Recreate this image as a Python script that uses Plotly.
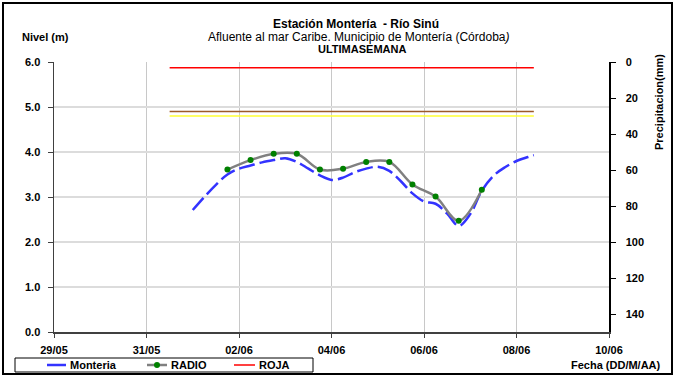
import plotly.graph_objects as go

# ---------------- data ----------------
monteria_t = ["2011-06-01 00:00", "2011-06-01 06:00", "2011-06-01 12:00", "2011-06-01 18:00",
              "2011-06-02 00:00", "2011-06-02 06:00", "2011-06-02 12:00", "2011-06-02 18:00",
              "2011-06-03 00:00", "2011-06-03 06:00", "2011-06-03 12:00", "2011-06-03 18:00",
              "2011-06-04 00:00", "2011-06-04 06:00", "2011-06-04 12:00", "2011-06-04 18:00",
              "2011-06-05 00:00", "2011-06-05 06:00", "2011-06-05 12:00", "2011-06-05 18:00",
              "2011-06-06 00:00", "2011-06-06 06:00", "2011-06-06 12:00", "2011-06-06 18:00",
              "2011-06-07 00:00", "2011-06-07 06:00", "2011-06-07 12:00", "2011-06-07 18:00",
              "2011-06-08 00:00", "2011-06-08 06:00", "2011-06-08 09:00"]
monteria_v = [2.71, 3.00, 3.27, 3.50,
              3.63, 3.70, 3.77, 3.82,
              3.86, 3.78, 3.63, 3.48,
              3.38, 3.43, 3.55, 3.63,
              3.67, 3.58, 3.35, 3.08,
              2.90, 2.85, 2.63, 2.36,
              2.62, 3.14, 3.47, 3.66,
              3.80, 3.89, 3.93]

radio_t = ["2011-06-01 18:00", "2011-06-02 06:00", "2011-06-02 18:00", "2011-06-03 06:00",
           "2011-06-03 18:00", "2011-06-04 06:00", "2011-06-04 18:00", "2011-06-05 06:00",
           "2011-06-05 18:00", "2011-06-06 06:00", "2011-06-06 18:00", "2011-06-07 06:00"]
radio_v = [3.61, 3.82, 3.96, 3.96, 3.61, 3.63, 3.78, 3.78, 3.28, 3.01, 2.47, 3.16]

umbral_t = ["2011-05-31 12:00", "2011-06-08 09:00"]
roja_v = 5.87
naranja_v = 4.90
amarilla_v = 4.80

x_ticks = ["2011-05-29", "2011-05-31", "2011-06-02", "2011-06-04",
           "2011-06-06", "2011-06-08", "2011-06-10"]
x_ticktext = ["29/05", "31/05", "02/06", "04/06", "06/06", "08/06", "10/06"]
y_ticks = [0, 1, 2, 3, 4, 5, 6]
y2_ticks = [0, 20, 40, 60, 80, 100, 120, 140]

legend_names = ["Monteria", "RADIO", "ROJA"]

# ---------------- figure ----------------
FONT = "Liberation Sans, Arial, sans-serif"
BLUE, GRAY, GREEN, RED = "#3333FF", "#808080", "#008000", "#FF0000"
fig = go.Figure()

fig.add_trace(go.Scatter(x=umbral_t, y=[naranja_v] * 2, mode="lines",
                         line=dict(color="#9C5A28", width=1.5), showlegend=False,
                         hoverinfo="skip"))
fig.add_trace(go.Scatter(x=umbral_t, y=[amarilla_v] * 2, mode="lines",
                         line=dict(color="#FFFF33", width=1.5), showlegend=False,
                         hoverinfo="skip"))
fig.add_trace(go.Scatter(x=monteria_t, y=monteria_v, name=legend_names[0], mode="lines",
                         line=dict(color=BLUE, width=2.5, shape="spline",
                                   smoothing=1.0, dash="16px,5px")))
fig.add_trace(go.Scatter(x=radio_t, y=radio_v, name=legend_names[1], mode="lines+markers",
                         line=dict(color=GRAY, width=2.5, shape="spline", smoothing=1.0),
                         marker=dict(color=GREEN, size=6)))
fig.add_trace(go.Scatter(x=umbral_t, y=[roja_v] * 2, name=legend_names[2], mode="lines",
                         line=dict(color=RED, width=1.5)))
# invisible trace to create the right axis
fig.add_trace(go.Scatter(x=[x_ticks[0]], y=[None], yaxis="y2", showlegend=False,
                         hoverinfo="skip"))

L, R, T, B = 54, 609, 62, 332
W, H = 676, 377
pw, ph = R - L, B - T


def px(xp):
    return (xp - L) / pw


def py(yp):
    return (B - yp) / ph


fig.update_layout(
    width=W, height=H,
    margin=dict(l=L, r=W - R, t=T, b=H - B, pad=0),
    paper_bgcolor="white", plot_bgcolor="white",
    font=dict(family=FONT, size=11, color="black"),
    showlegend=False,
    xaxis=dict(type="date", range=["2011-05-29", "2011-06-10"],
               tickvals=x_ticks, ticktext=x_ticktext,
               tickfont=dict(size=11, weight="bold"),
               showgrid=True, gridcolor="#C8C8C8", gridwidth=1,
               showline=True, linecolor="#404040", linewidth=1.5,
               ticks="outside", ticklen=4, tickcolor="#404040",
               ticklabelstandoff=3, zeroline=False),
    yaxis=dict(range=[0, 6], tickvals=y_ticks, tickformat=".1f",
               tickfont=dict(size=11, weight="bold"),
               showgrid=True, gridcolor="#DCDCDC", gridwidth=2,
               showline=True, linecolor="#404040", linewidth=1.5,
               ticks="outside", ticklen=5, tickcolor="#404040",
               ticklabelstandoff=5, zeroline=False),
    yaxis2=dict(range=[150, 0], tickvals=y2_ticks, overlaying="y", side="right",
                tickfont=dict(size=11, weight="bold"),
                showgrid=False, showline=True, linecolor="black", linewidth=1.5,
                ticks="outside", ticklen=5, tickcolor="black",
                ticklabelstandoff=8, zeroline=False),
)

ann = [
    dict(text="<b>Estación Montería  - Río Sinú</b>", x=px(356), y=py(24),
         font=dict(size=12, family=FONT, color="black")),
    dict(text="Afluente al mar Caribe. Municipio de Montería (Córdoba<i>)</i>", x=px(358), y=py(37),
         font=dict(size=12, family=FONT, color="black")),
    dict(text="<b>ULTIMASEMANA</b>", x=px(362), y=py(49)),
    dict(text="<b>Nivel (m)</b>", x=px(20), y=py(37), xanchor="left"),
    dict(text="<b>Fecha (DD/M/AA)</b>", x=px(663), y=py(365), xanchor="right"),
    dict(text="<b>Precipitacion(mm)</b>", x=px(659), y=py(102), textangle=-90),
]

# custom compact legend (box, samples, labels)
LEG_Y = 365
leg_items = [(47, 66, BLUE, legend_names[0]),
             (147, 167, GRAY, legend_names[1]),
             (234, 255, RED, legend_names[2])]
for x0, x1, col, name in leg_items:
    fig.add_shape(type="line", xref="paper", yref="paper",
                  x0=px(x0), x1=px(x1), y0=py(LEG_Y), y1=py(LEG_Y),
                  line=dict(color=col, width=2.5 if col != RED else 1.5))
    ann.append(dict(text="<b>%s</b>" % name, x=px(x1 + 2), y=py(LEG_Y), xanchor="left"))
fig.add_shape(type="circle", xref="paper", yref="paper",
              x0=px(154), x1=px(160), y0=py(LEG_Y + 3), y1=py(LEG_Y - 3),
              line=dict(color=GREEN, width=0), fillcolor=GREEN)
fig.add_shape(type="rect", xref="paper", yref="paper",
              x0=px(15), x1=px(313), y0=py(372), y1=py(358),
              line=dict(color="black", width=1), fillcolor="rgba(0,0,0,0)")

for a in ann:
    base = dict(xref="paper", yref="paper", showarrow=False, xanchor="center",
                yanchor="middle", font=dict(size=11, family=FONT, color="black"))
    base.update(a)
    fig.add_annotation(**base)

fig.add_shape(type="rect", xref="paper", yref="paper",
              x0=px(3), x1=px(672), y0=py(374), y1=py(3),
              line=dict(color="black", width=2), fillcolor="rgba(0,0,0,0)", layer="above")

fig.write_html("out.html",
               config={"displayModeBar": False, "staticPlot": True},
               post_script="document.body.style.margin='0';"
                           "document.body.style.overflow='hidden';")
